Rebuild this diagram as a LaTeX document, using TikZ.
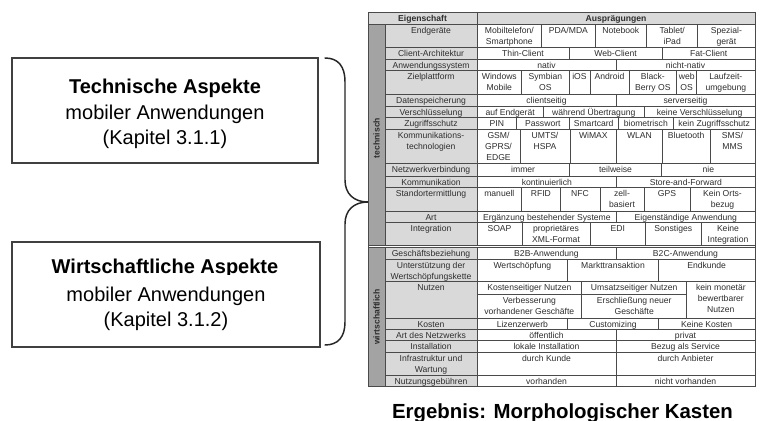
\documentclass[tikz,border=0pt]{standalone}
\usepackage{fontspec}
\setmainfont{Liberation Sans}
\definecolor{gridc}{HTML}{4A4A4A}
\definecolor{propc}{HTML}{D9D9D9}
\definecolor{stripc}{HTML}{A3A3A3}
\definecolor{textc}{HTML}{2E2E2E}
\definecolor{boxc}{HTML}{404040}
\tikzset{
  grid/.style={draw=gridc, line width=0.45pt},
  outerframe/.style={draw=gridc, line width=0.7pt},
  txt/.style={inner sep=0pt, outer sep=0pt, align=center, text=textc,
    font=\fontsize{6.45}{8.1}\selectfont, anchor=north},
  grouplabel/.style={inner sep=0pt, text=textc, rotate=90,
    font=\fontsize{6.45}{8.1}\selectfont\bfseries},
  aspectbox/.style={draw=boxc, line width=1pt},
  headline/.style={inner sep=0pt, anchor=base, font=\fontsize{15}{18}\selectfont\bfseries},
  subline/.style={inner sep=0pt, anchor=north, align=center, font=\fontsize{15}{18.2}\selectfont},
  bracepath/.style={draw=black!85, line width=1.1pt, line cap=round, line join=round},
}
\newcounter{cellno}
% value cell: x1, x2, y1, y2, text (text hangs from the top edge)
\newcommand\vcell[5]{%
  \stepcounter{cellno}%
  \draw[grid, fill=white] (#1,#3) rectangle (#2,#4);
  \node[txt] (v\arabic{cellno}) at ({(#1+#2)/2},#3) {\rule{0pt}{6.9pt}#5};
}
% property cell: y1, y2, text
\newcommand\pcell[3]{%
  \stepcounter{cellno}%
  \draw[grid, fill=propc] (385,#1) rectangle (477,#2);
  \node[txt] (p\arabic{cellno}) at (431,#1) {\rule{0pt}{6.9pt}#3};
}
\begin{document}
\begin{tikzpicture}[x=0.75pt, y=-0.75pt]
\useasboundingbox[fill=white] (0,0) rectangle (760,421);

% ---------- left side: the two aspect boxes ----------
\node[aspectbox, minimum width=229.5pt, minimum height=78.75pt] (techbox) at (165,110.5) {};
\node[headline] (techhead) at (165,93.3) {Technische Aspekte};
\node[subline] (techsub) at (165,104.5) {\rule{0pt}{11.4pt}mobiler Anwendungen\\(Kapitel 3.1.1)};

\node[aspectbox, minimum width=231pt, minimum height=78.75pt] (wirtbox) at (166,294.5) {};
\begin{scope}
  \clip (20,250) rectangle (312,274.6);
  \node[headline] (wirthead) at (165,273.3) {Wirtschaftliche Aspekte};
\end{scope}
\node[subline] (wirtsub) at (166,286.3) {\rule{0pt}{11.4pt}mobiler Anwendungen\\(Kapitel 3.1.2)};

% ---------- curly brace ----------
\coordinate (bracetop) at (325,58);
\coordinate (bracetip) at (368,202);
\coordinate (bracebot) at (325,345);
\draw[bracepath] (bracetop) .. controls (338,58) and (345,66) .. (345,82)
  -- (345,180) .. controls (345,194) and (354,202) .. (bracetip)
  .. controls (354,202) and (345,210) .. (345,224)
  -- (345,322) .. controls (345,337) and (338,345) .. (bracebot);

% ---------- morphological box ----------
% header
\draw[grid, fill=propc] (368,12.3) rectangle (477,24.3);
\draw[grid, fill=propc] (477,12.3) rectangle (755,24.3);
\node[txt, font=\fontsize{6.45}{8.1}\selectfont\bfseries] (hdrprop) at (422.5,12.3) {\rule{0pt}{6.9pt}Eigenschaft};
\node[txt, font=\fontsize{6.45}{8.1}\selectfont\bfseries] (hdrval) at (616,12.3) {\rule{0pt}{6.9pt}Ausprägungen};

% group strips
\draw[grid, fill=stripc] (368,24.3) rectangle (385,245);
\draw[grid, fill=stripc] (368,247) rectangle (385,386.7);
\node[grouplabel] (gtech) at (376.5,138) {technisch};
\node[grouplabel] (gwirt) at (376.5,317) {wirtschaftlich};

% technical properties
\pcell{24.3}{47.7}{Endgeräte}
\vcell{477}{541.7}{24.3}{47.7}{Mobiltelefon/\\Smartphone}
\vcell{541.7}{595}{24.3}{47.7}{PDA/MDA}
\vcell{595}{646.7}{24.3}{47.7}{Notebook}
\vcell{646.7}{697.7}{24.3}{47.7}{Tablet/\\iPad}
\vcell{697.7}{755}{24.3}{47.7}{Spezial-\\gerät}

\pcell{47.7}{59.3}{Client-Architektur}
\vcell{477}{569}{47.7}{59.3}{Thin-Client}
\vcell{569}{662.3}{47.7}{59.3}{Web-Client}
\vcell{662.3}{755}{47.7}{59.3}{Fat-Client}

\pcell{59.3}{70.7}{Anwendungssystem}
\vcell{477}{616}{59.3}{70.7}{nativ}
\vcell{616}{755}{59.3}{70.7}{nicht-nativ}

\pcell{70.7}{94.3}{Zielplattform}
\vcell{477}{521.7}{70.7}{94.3}{Windows\\Mobile}
\vcell{521.7}{569}{70.7}{94.3}{Symbian\\OS}
\vcell{569}{590}{70.7}{94.3}{iOS}
\vcell{590}{629}{70.7}{94.3}{Android}
\vcell{629}{676.7}{70.7}{94.3}{Black-\\Berry OS}
\vcell{676.7}{696.7}{70.7}{94.3}{web\\OS}
\vcell{696.7}{755}{70.7}{94.3}{Laufzeit-\\umgebung}

\pcell{94.3}{106.7}{Datenspeicherung}
\vcell{477}{616}{94.3}{106.7}{clientseitig}
\vcell{616}{755}{94.3}{106.7}{serverseitig}

\pcell{106.7}{117.7}{Verschlüsselung}
\vcell{477}{543.3}{106.7}{117.7}{auf Endgerät}
\vcell{543.3}{644.3}{106.7}{117.7}{während Übertragung}
\vcell{644.3}{755}{106.7}{117.7}{keine Verschlüsselung}

\pcell{117.7}{129.3}{Zugriffsschutz}
\vcell{477}{516.7}{117.7}{129.3}{PIN}
\vcell{516.7}{569}{117.7}{129.3}{Passwort}
\vcell{569}{618.3}{117.7}{129.3}{Smartcard}
\vcell{618.3}{673.3}{117.7}{129.3}{biometrisch}
\vcell{673.3}{755}{117.7}{129.3}{kein Zugriffsschutz}

\pcell{129.3}{163.3}{Kommunikations-\\technologien}
\vcell{477}{520}{129.3}{163.3}{GSM/\\GPRS/\\EDGE}
\vcell{520}{570}{129.3}{163.3}{UMTS/\\HSPA}
\vcell{570}{616.7}{129.3}{163.3}{WiMAX}
\vcell{616.7}{662.3}{129.3}{163.3}{WLAN}
\vcell{662.3}{710}{129.3}{163.3}{Bluetooth}
\vcell{710}{755}{129.3}{163.3}{SMS/\\MMS}

\pcell{163.3}{176}{Netzwerkverbindung}
\vcell{477}{569.3}{163.3}{176}{immer}
\vcell{569.3}{661.7}{163.3}{176}{teilweise}
\vcell{661.7}{755}{163.3}{176}{nie}

\pcell{176}{187.7}{Kommunikation}
\vcell{477}{616.7}{176}{187.7}{kontinuierlich}
\vcell{616.7}{755}{176}{187.7}{Store-and-Forward}

\pcell{187.7}{211.7}{Standortermittlung}
\vcell{477}{521.7}{187.7}{211.7}{manuell}
\vcell{521.7}{560}{187.7}{211.7}{RFID}
\vcell{560}{600}{187.7}{211.7}{NFC}
\vcell{600}{644}{187.7}{211.7}{zell-\\basiert}
\vcell{644}{690}{187.7}{211.7}{GPS}
\vcell{690}{755}{187.7}{211.7}{Kein Orts-\\bezug}

\pcell{211.7}{222.7}{Art}
\vcell{477}{616.7}{211.7}{222.7}{Ergänzung bestehender Systeme}
\vcell{616.7}{755}{211.7}{222.7}{Eigenständige Anwendung}

\pcell{222.7}{245}{Integration}
\vcell{477}{522}{222.7}{245}{SOAP}
\vcell{522}{590}{222.7}{245}{proprietäres\\XML-Format}
\vcell{590}{645.5}{222.7}{245}{EDI}
\vcell{645.5}{701}{222.7}{245}{Sonstiges}
\vcell{701}{755}{222.7}{245}{Keine\\Integration}

% economic properties
\pcell{247}{259}{Geschäftsbeziehung}
\vcell{477}{616}{247}{259}{B2B-Anwendung}
\vcell{616}{755}{247}{259}{B2C-Anwendung}

\pcell{259}{281.7}{Unterstützung der\\Wertschöpfungskette}
\vcell{477}{567.7}{259}{281.7}{Wertschöpfung}
\vcell{567.7}{658.3}{259}{281.7}{Markttransaktion}
\vcell{658.3}{755}{259}{281.7}{Endkunde}

\pcell{281.7}{318.3}{Nutzen}
\vcell{477}{581.7}{281.7}{294.3}{Kostenseitiger Nutzen}
\vcell{581.7}{686.7}{281.7}{294.3}{Umsatzseitiger Nutzen}
\vcell{686.7}{755}{281.7}{318.3}{kein monetär\\bewertbarer\\Nutzen}
\vcell{477}{581.7}{294.3}{318.3}{Verbesserung\\vorhandener Geschäfte}
\vcell{581.7}{686.7}{294.3}{318.3}{Erschließung neuer\\Geschäfte}

\pcell{318.3}{329}{Kosten}
\vcell{477}{567.7}{318.3}{329}{Lizenzerwerb}
\vcell{567.7}{658.3}{318.3}{329}{Customizing}
\vcell{658.3}{755}{318.3}{329}{Keine Kosten}

\pcell{329}{340.7}{Art des Netzwerks}
\vcell{477}{616}{329}{340.7}{öffentlich}
\vcell{616}{755}{329}{340.7}{privat}

\pcell{340.7}{352.3}{Installation}
\vcell{477}{616}{340.7}{352.3}{lokale Installation}
\vcell{616}{755}{340.7}{352.3}{Bezug als Service}

\pcell{352.3}{375}{Infrastruktur und\\Wartung}
\vcell{477}{616}{352.3}{375}{durch Kunde}
\vcell{616}{755}{352.3}{375}{durch Anbieter}

\pcell{375}{386.7}{Nutzungsgebühren}
\vcell{477}{616}{375}{386.7}{vorhanden}
\vcell{616}{755}{375}{386.7}{nicht vorhanden}

% frame and double separator between the two groups
\draw[outerframe] (368,12.3) rectangle (755,386.7);
\draw[grid] (368,245) -- (755,245);
\draw[grid] (368,247) -- (755,247);

% caption below the box
\node[headline, font=\fontsize{15.3}{18}\selectfont\bfseries] (result) at (562.5,418.3) {Ergebnis: Morphologischer Kasten};
\end{tikzpicture}
\end{document}
